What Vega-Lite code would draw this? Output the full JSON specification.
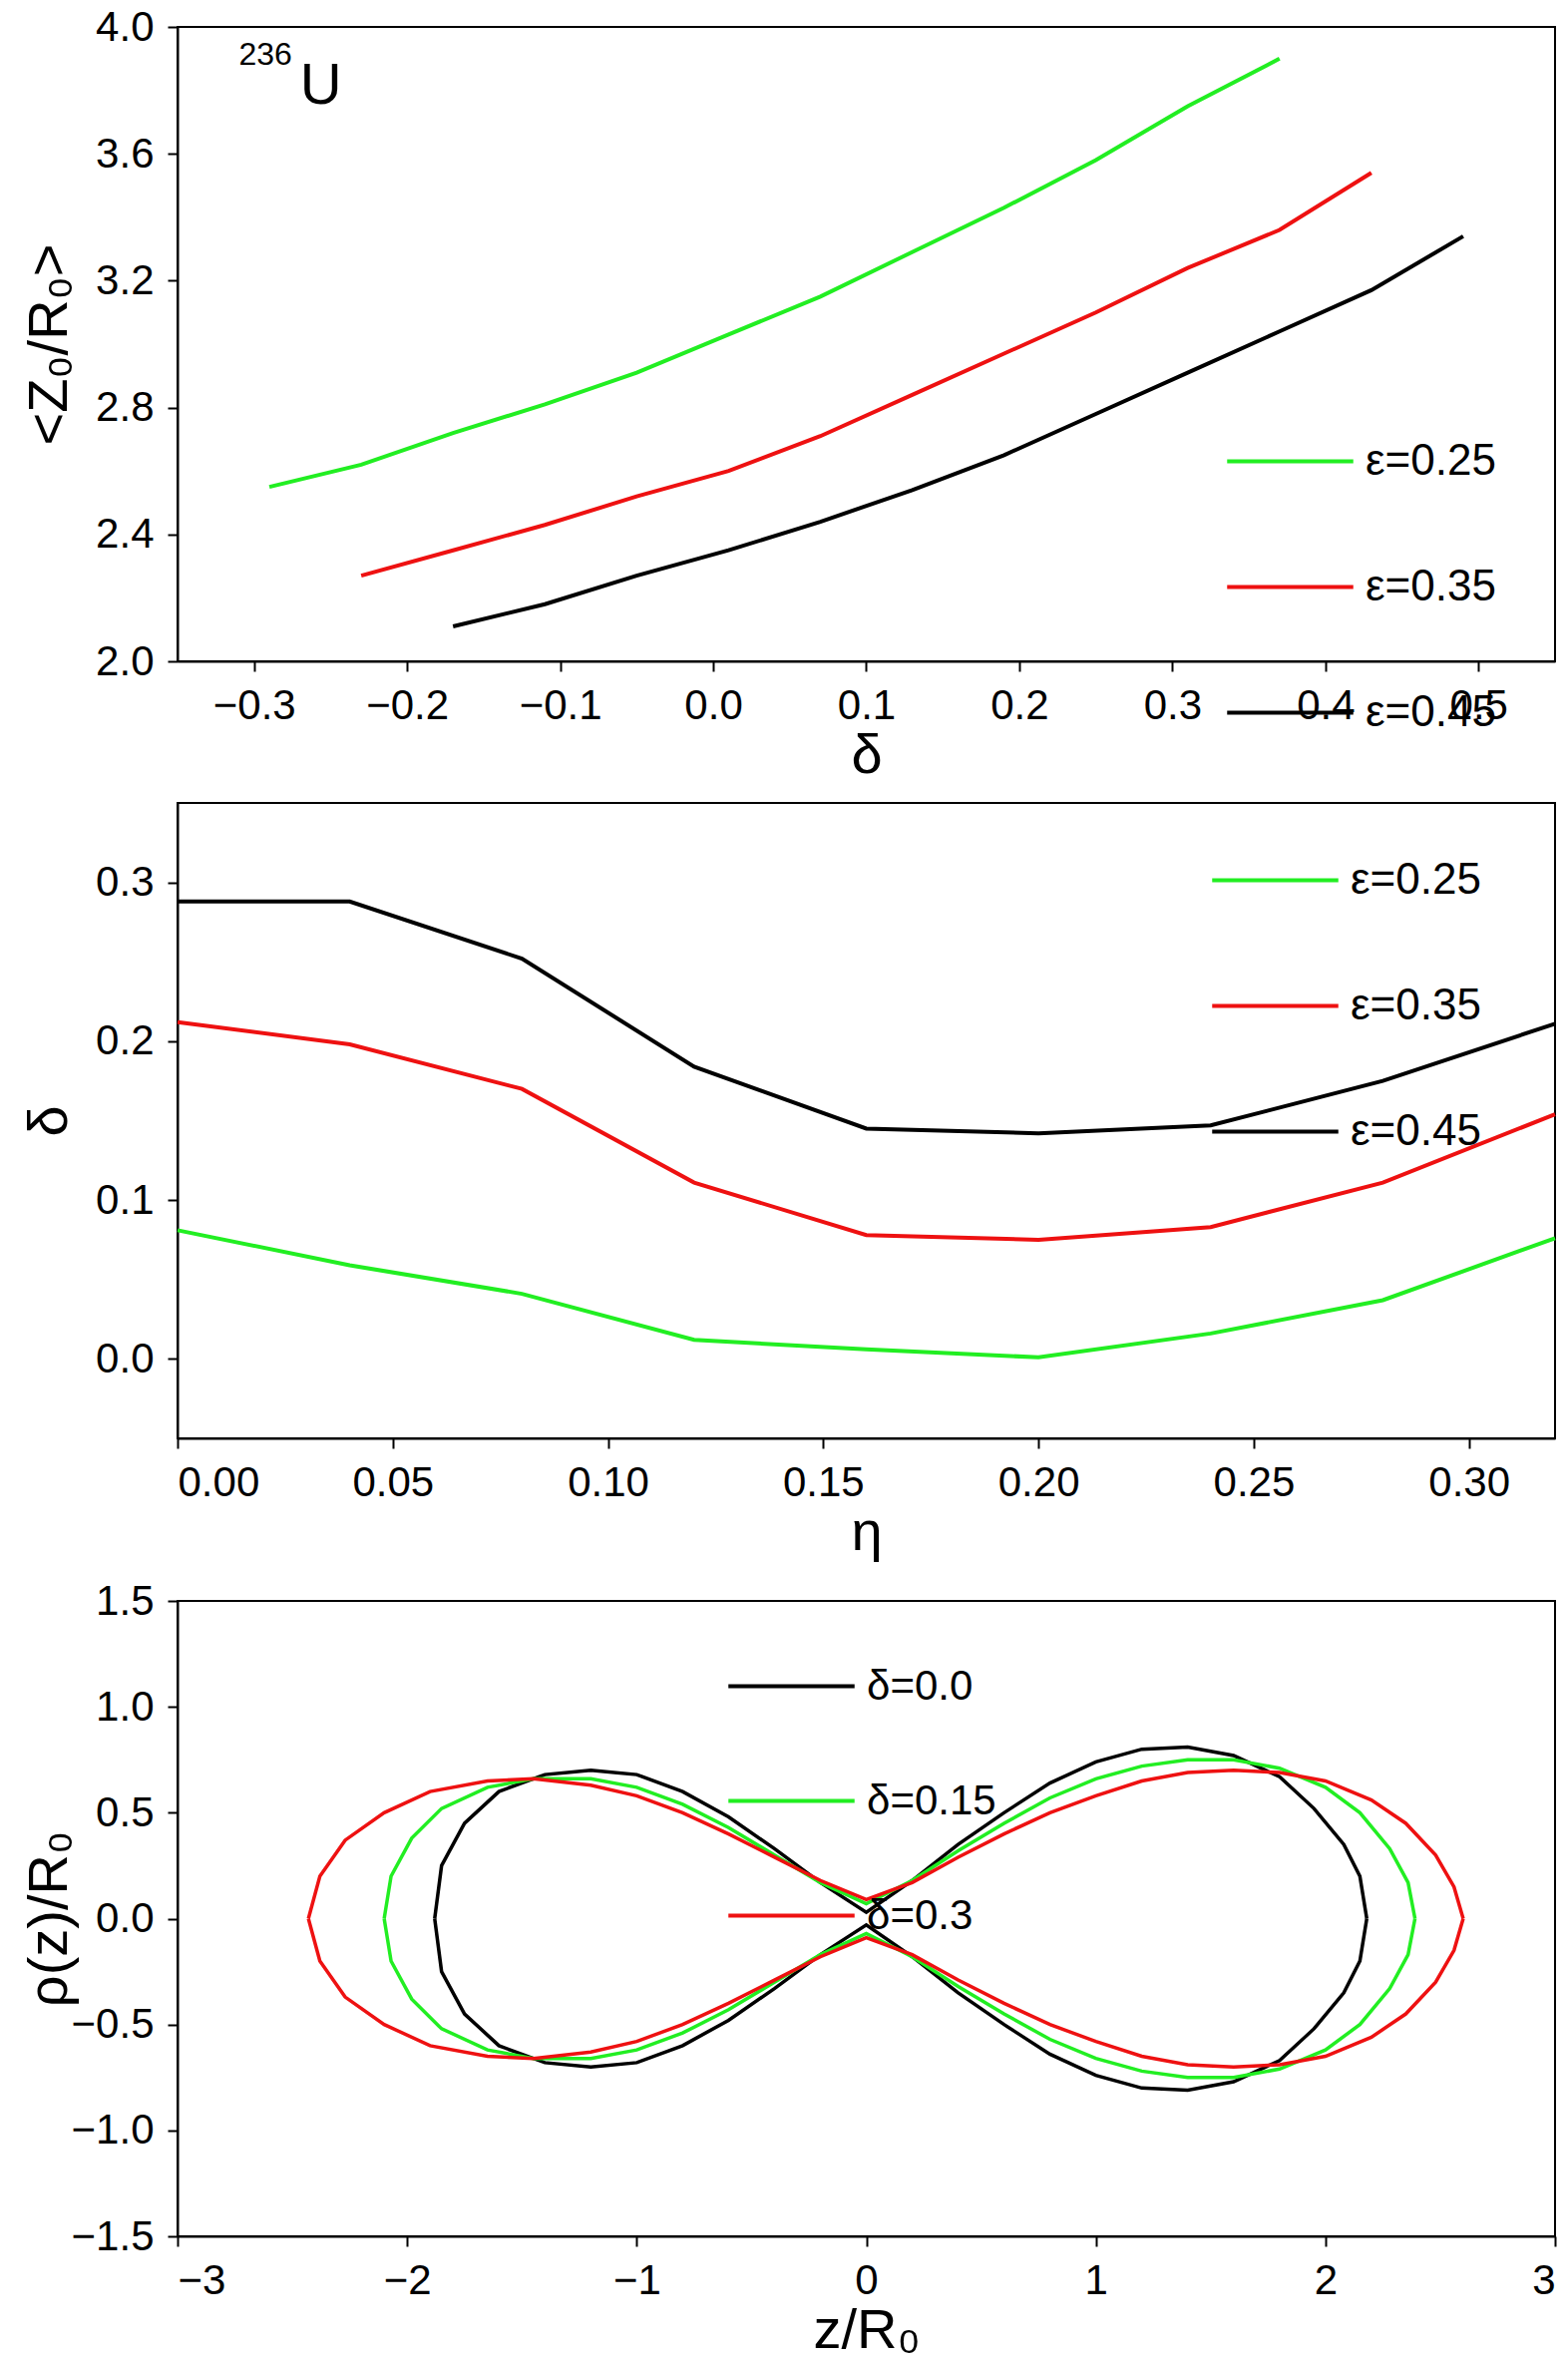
{
  "$schema": "https://vega.github.io/schema/vega-lite/v6.json",
  "background": "white",
  "padding": {"left": 20, "top": 5, "right": 0, "bottom": 0},
  "spacing": 18,
  "config": {
    "font": "Liberation Sans",
    "view": {"stroke": "black", "strokeWidth": 2},
    "axis": {"labelFontSize": 42, "titleFontSize": 56, "titleFontWeight": "normal", "labelColor": "black", "titleColor": "black", "domainColor": "black", "tickColor": "black", "tickSize": 10, "tickWidth": 2, "domainWidth": 2, "grid": false, "labelPadding": 14},
    "axisY": {"minExtent": 100, "maxExtent": 100, "titlePadding": 0},
    "axisX": {"titlePadding": 2},
    "legend": {"labelFontSize": 44, "symbolType": "stroke", "symbolSize": 16000, "symbolStrokeWidth": 4, "labelColor": "black", "title": null, "orient": "none", "labelOffset": 10},
    "line": {"strokeWidth": 4}
  },
  "resolve": {"scale": {"color": "independent"}},
  "vconcat": [
    {
      "width": 1381, "height": 636,
      "layer": [
        {
          "data": {"values": [
            {"d": -0.29, "z": 2.55, "s": "ε=0.25"}, {"d": -0.23, "z": 2.62, "s": "ε=0.25"}, {"d": -0.17, "z": 2.72, "s": "ε=0.25"}, {"d": -0.11, "z": 2.81, "s": "ε=0.25"}, {"d": -0.05, "z": 2.91, "s": "ε=0.25"}, {"d": 0.01, "z": 3.03, "s": "ε=0.25"}, {"d": 0.07, "z": 3.15, "s": "ε=0.25"}, {"d": 0.13, "z": 3.29, "s": "ε=0.25"}, {"d": 0.19, "z": 3.43, "s": "ε=0.25"}, {"d": 0.25, "z": 3.58, "s": "ε=0.25"}, {"d": 0.31, "z": 3.75, "s": "ε=0.25"}, {"d": 0.37, "z": 3.90, "s": "ε=0.25"},
            {"d": -0.23, "z": 2.27, "s": "ε=0.35"}, {"d": -0.17, "z": 2.35, "s": "ε=0.35"}, {"d": -0.11, "z": 2.43, "s": "ε=0.35"}, {"d": -0.05, "z": 2.52, "s": "ε=0.35"}, {"d": 0.01, "z": 2.60, "s": "ε=0.35"}, {"d": 0.07, "z": 2.71, "s": "ε=0.35"}, {"d": 0.13, "z": 2.84, "s": "ε=0.35"}, {"d": 0.19, "z": 2.97, "s": "ε=0.35"}, {"d": 0.25, "z": 3.10, "s": "ε=0.35"}, {"d": 0.31, "z": 3.24, "s": "ε=0.35"}, {"d": 0.37, "z": 3.36, "s": "ε=0.35"}, {"d": 0.43, "z": 3.54, "s": "ε=0.35"},
            {"d": -0.17, "z": 2.11, "s": "ε=0.45"}, {"d": -0.11, "z": 2.18, "s": "ε=0.45"}, {"d": -0.05, "z": 2.27, "s": "ε=0.45"}, {"d": 0.01, "z": 2.35, "s": "ε=0.45"}, {"d": 0.07, "z": 2.44, "s": "ε=0.45"}, {"d": 0.13, "z": 2.54, "s": "ε=0.45"}, {"d": 0.19, "z": 2.65, "s": "ε=0.45"}, {"d": 0.25, "z": 2.78, "s": "ε=0.45"}, {"d": 0.31, "z": 2.91, "s": "ε=0.45"}, {"d": 0.37, "z": 3.04, "s": "ε=0.45"}, {"d": 0.43, "z": 3.17, "s": "ε=0.45"}, {"d": 0.49, "z": 3.34, "s": "ε=0.45"}
          ]},
          "mark": "line",
          "encoding": {
            "x": {"field": "d", "type": "quantitative", "title": "δ", "scale": {"domain": [-0.35, 0.55], "nice": false}, "axis": {"values": [-0.3, -0.2, -0.1, 0.0, 0.1, 0.2, 0.3, 0.4, 0.5], "format": ".1f"}},
            "y": {"field": "z", "type": "quantitative", "title": "<Z₀/R₀>", "scale": {"domain": [2.0, 4.0], "nice": false}, "axis": {"values": [2.0, 2.4, 2.8, 3.2, 3.6, 4.0], "format": ".1f"}},
            "color": {"field": "s", "type": "nominal", "scale": {"domain": ["ε=0.25", "ε=0.35", "ε=0.45"], "range": ["#22ee22", "#ee1111", "black"]}, "legend": {"legendX": 1050, "legendY": 370, "rowPadding": 38}}
          }
        },
        {
          "data": {"values": [{"d": -0.31, "z": 3.86, "t": "236"}]},
          "mark": {"type": "text", "fontSize": 32, "align": "left", "baseline": "bottom"},
          "encoding": {"x": {"field": "d", "type": "quantitative"}, "y": {"field": "z", "type": "quantitative"}, "text": {"field": "t"}}
        },
        {
          "data": {"values": [{"d": -0.27, "z": 3.72, "t": "U"}]},
          "mark": {"type": "text", "fontSize": 58, "align": "left", "baseline": "bottom"},
          "encoding": {"x": {"field": "d", "type": "quantitative"}, "y": {"field": "z", "type": "quantitative"}, "text": {"field": "t"}}
        }
      ]
    },
    {
      "width": 1381, "height": 637,
      "data": {"values": [
        {"e": 0.00, "d": 0.288, "s": "ε=0.45"}, {"e": 0.04, "d": 0.288, "s": "ε=0.45"}, {"e": 0.08, "d": 0.252, "s": "ε=0.45"}, {"e": 0.12, "d": 0.184, "s": "ε=0.45"}, {"e": 0.16, "d": 0.145, "s": "ε=0.45"}, {"e": 0.20, "d": 0.142, "s": "ε=0.45"}, {"e": 0.24, "d": 0.147, "s": "ε=0.45"}, {"e": 0.28, "d": 0.175, "s": "ε=0.45"}, {"e": 0.32, "d": 0.211, "s": "ε=0.45"},
        {"e": 0.00, "d": 0.212, "s": "ε=0.35"}, {"e": 0.04, "d": 0.198, "s": "ε=0.35"}, {"e": 0.08, "d": 0.170, "s": "ε=0.35"}, {"e": 0.12, "d": 0.111, "s": "ε=0.35"}, {"e": 0.16, "d": 0.078, "s": "ε=0.35"}, {"e": 0.20, "d": 0.075, "s": "ε=0.35"}, {"e": 0.24, "d": 0.083, "s": "ε=0.35"}, {"e": 0.28, "d": 0.111, "s": "ε=0.35"}, {"e": 0.32, "d": 0.154, "s": "ε=0.35"},
        {"e": 0.00, "d": 0.081, "s": "ε=0.25"}, {"e": 0.04, "d": 0.059, "s": "ε=0.25"}, {"e": 0.08, "d": 0.041, "s": "ε=0.25"}, {"e": 0.12, "d": 0.012, "s": "ε=0.25"}, {"e": 0.16, "d": 0.006, "s": "ε=0.25"}, {"e": 0.20, "d": 0.001, "s": "ε=0.25"}, {"e": 0.24, "d": 0.016, "s": "ε=0.25"}, {"e": 0.28, "d": 0.037, "s": "ε=0.25"}, {"e": 0.32, "d": 0.076, "s": "ε=0.25"}
      ]},
      "mark": "line",
      "encoding": {
        "x": {"field": "e", "type": "quantitative", "title": "η", "scale": {"domain": [0, 0.32], "nice": false}, "axis": {"values": [0, 0.05, 0.1, 0.15, 0.2, 0.25, 0.3], "format": ".2f"}},
        "y": {"field": "d", "type": "quantitative", "title": "δ", "scale": {"domain": [-0.05, 0.35], "nice": false}, "axis": {"values": [0, 0.1, 0.2, 0.3], "format": ".1f"}},
        "color": {"field": "s", "type": "nominal", "scale": {"domain": ["ε=0.25", "ε=0.35", "ε=0.45"], "range": ["#22ee22", "#ee1111", "black"]}, "legend": {"legendX": 1035, "legendY": 12, "rowPadding": 38}}
      }
    },
    {
      "width": 1381, "height": 637,
      "data": {"values": [
        {"c": "δ=0.0", "b": "u", "z": -1.88, "r": 0}, {"c": "δ=0.0", "b": "u", "z": -1.85, "r": 0.25}, {"c": "δ=0.0", "b": "u", "z": -1.75, "r": 0.45}, {"c": "δ=0.0", "b": "u", "z": -1.6, "r": 0.6}, {"c": "δ=0.0", "b": "u", "z": -1.4, "r": 0.68}, {"c": "δ=0.0", "b": "u", "z": -1.2, "r": 0.70}, {"c": "δ=0.0", "b": "u", "z": -1.0, "r": 0.68}, {"c": "δ=0.0", "b": "u", "z": -0.8, "r": 0.6}, {"c": "δ=0.0", "b": "u", "z": -0.6, "r": 0.48}, {"c": "δ=0.0", "b": "u", "z": -0.4, "r": 0.33}, {"c": "δ=0.0", "b": "u", "z": -0.2, "r": 0.17}, {"c": "δ=0.0", "b": "u", "z": 0, "r": 0.03}, {"c": "δ=0.0", "b": "u", "z": 0.2, "r": 0.18}, {"c": "δ=0.0", "b": "u", "z": 0.4, "r": 0.35}, {"c": "δ=0.0", "b": "u", "z": 0.6, "r": 0.5}, {"c": "δ=0.0", "b": "u", "z": 0.8, "r": 0.64}, {"c": "δ=0.0", "b": "u", "z": 1.0, "r": 0.74}, {"c": "δ=0.0", "b": "u", "z": 1.2, "r": 0.80}, {"c": "δ=0.0", "b": "u", "z": 1.4, "r": 0.81}, {"c": "δ=0.0", "b": "u", "z": 1.6, "r": 0.77}, {"c": "δ=0.0", "b": "u", "z": 1.8, "r": 0.67}, {"c": "δ=0.0", "b": "u", "z": 1.95, "r": 0.52}, {"c": "δ=0.0", "b": "u", "z": 2.08, "r": 0.35}, {"c": "δ=0.0", "b": "u", "z": 2.15, "r": 0.2}, {"c": "δ=0.0", "b": "u", "z": 2.18, "r": 0},
        {"c": "δ=0.0", "b": "l", "z": -1.88, "r": 0}, {"c": "δ=0.0", "b": "l", "z": -1.85, "r": -0.25}, {"c": "δ=0.0", "b": "l", "z": -1.75, "r": -0.45}, {"c": "δ=0.0", "b": "l", "z": -1.6, "r": -0.6}, {"c": "δ=0.0", "b": "l", "z": -1.4, "r": -0.68}, {"c": "δ=0.0", "b": "l", "z": -1.2, "r": -0.70}, {"c": "δ=0.0", "b": "l", "z": -1.0, "r": -0.68}, {"c": "δ=0.0", "b": "l", "z": -0.8, "r": -0.6}, {"c": "δ=0.0", "b": "l", "z": -0.6, "r": -0.48}, {"c": "δ=0.0", "b": "l", "z": -0.4, "r": -0.33}, {"c": "δ=0.0", "b": "l", "z": -0.2, "r": -0.17}, {"c": "δ=0.0", "b": "l", "z": 0, "r": -0.03}, {"c": "δ=0.0", "b": "l", "z": 0.2, "r": -0.18}, {"c": "δ=0.0", "b": "l", "z": 0.4, "r": -0.35}, {"c": "δ=0.0", "b": "l", "z": 0.6, "r": -0.5}, {"c": "δ=0.0", "b": "l", "z": 0.8, "r": -0.64}, {"c": "δ=0.0", "b": "l", "z": 1.0, "r": -0.74}, {"c": "δ=0.0", "b": "l", "z": 1.2, "r": -0.80}, {"c": "δ=0.0", "b": "l", "z": 1.4, "r": -0.81}, {"c": "δ=0.0", "b": "l", "z": 1.6, "r": -0.77}, {"c": "δ=0.0", "b": "l", "z": 1.8, "r": -0.67}, {"c": "δ=0.0", "b": "l", "z": 1.95, "r": -0.52}, {"c": "δ=0.0", "b": "l", "z": 2.08, "r": -0.35}, {"c": "δ=0.0", "b": "l", "z": 2.15, "r": -0.2}, {"c": "δ=0.0", "b": "l", "z": 2.18, "r": 0},
        {"c": "δ=0.15", "b": "u", "z": -2.10, "r": 0}, {"c": "δ=0.15", "b": "u", "z": -2.07, "r": 0.2}, {"c": "δ=0.15", "b": "u", "z": -1.98, "r": 0.38}, {"c": "δ=0.15", "b": "u", "z": -1.85, "r": 0.52}, {"c": "δ=0.15", "b": "u", "z": -1.65, "r": 0.62}, {"c": "δ=0.15", "b": "u", "z": -1.45, "r": 0.66}, {"c": "δ=0.15", "b": "u", "z": -1.2, "r": 0.66}, {"c": "δ=0.15", "b": "u", "z": -1.0, "r": 0.62}, {"c": "δ=0.15", "b": "u", "z": -0.8, "r": 0.54}, {"c": "δ=0.15", "b": "u", "z": -0.6, "r": 0.43}, {"c": "δ=0.15", "b": "u", "z": -0.4, "r": 0.3}, {"c": "δ=0.15", "b": "u", "z": -0.2, "r": 0.17}, {"c": "δ=0.15", "b": "u", "z": 0, "r": 0.07}, {"c": "δ=0.15", "b": "u", "z": 0.2, "r": 0.18}, {"c": "δ=0.15", "b": "u", "z": 0.4, "r": 0.32}, {"c": "δ=0.15", "b": "u", "z": 0.6, "r": 0.45}, {"c": "δ=0.15", "b": "u", "z": 0.8, "r": 0.57}, {"c": "δ=0.15", "b": "u", "z": 1.0, "r": 0.66}, {"c": "δ=0.15", "b": "u", "z": 1.2, "r": 0.72}, {"c": "δ=0.15", "b": "u", "z": 1.4, "r": 0.75}, {"c": "δ=0.15", "b": "u", "z": 1.6, "r": 0.75}, {"c": "δ=0.15", "b": "u", "z": 1.8, "r": 0.71}, {"c": "δ=0.15", "b": "u", "z": 2.0, "r": 0.62}, {"c": "δ=0.15", "b": "u", "z": 2.15, "r": 0.5}, {"c": "δ=0.15", "b": "u", "z": 2.28, "r": 0.33}, {"c": "δ=0.15", "b": "u", "z": 2.36, "r": 0.17}, {"c": "δ=0.15", "b": "u", "z": 2.39, "r": 0},
        {"c": "δ=0.15", "b": "l", "z": -2.10, "r": 0}, {"c": "δ=0.15", "b": "l", "z": -2.07, "r": -0.2}, {"c": "δ=0.15", "b": "l", "z": -1.98, "r": -0.38}, {"c": "δ=0.15", "b": "l", "z": -1.85, "r": -0.52}, {"c": "δ=0.15", "b": "l", "z": -1.65, "r": -0.62}, {"c": "δ=0.15", "b": "l", "z": -1.45, "r": -0.66}, {"c": "δ=0.15", "b": "l", "z": -1.2, "r": -0.66}, {"c": "δ=0.15", "b": "l", "z": -1.0, "r": -0.62}, {"c": "δ=0.15", "b": "l", "z": -0.8, "r": -0.54}, {"c": "δ=0.15", "b": "l", "z": -0.6, "r": -0.43}, {"c": "δ=0.15", "b": "l", "z": -0.4, "r": -0.3}, {"c": "δ=0.15", "b": "l", "z": -0.2, "r": -0.17}, {"c": "δ=0.15", "b": "l", "z": 0, "r": -0.07}, {"c": "δ=0.15", "b": "l", "z": 0.2, "r": -0.18}, {"c": "δ=0.15", "b": "l", "z": 0.4, "r": -0.32}, {"c": "δ=0.15", "b": "l", "z": 0.6, "r": -0.45}, {"c": "δ=0.15", "b": "l", "z": 0.8, "r": -0.57}, {"c": "δ=0.15", "b": "l", "z": 1.0, "r": -0.66}, {"c": "δ=0.15", "b": "l", "z": 1.2, "r": -0.72}, {"c": "δ=0.15", "b": "l", "z": 1.4, "r": -0.75}, {"c": "δ=0.15", "b": "l", "z": 1.6, "r": -0.75}, {"c": "δ=0.15", "b": "l", "z": 1.8, "r": -0.71}, {"c": "δ=0.15", "b": "l", "z": 2.0, "r": -0.62}, {"c": "δ=0.15", "b": "l", "z": 2.15, "r": -0.5}, {"c": "δ=0.15", "b": "l", "z": 2.28, "r": -0.33}, {"c": "δ=0.15", "b": "l", "z": 2.36, "r": -0.17}, {"c": "δ=0.15", "b": "l", "z": 2.39, "r": 0},
        {"c": "δ=0.3", "b": "u", "z": -2.43, "r": 0}, {"c": "δ=0.3", "b": "u", "z": -2.38, "r": 0.2}, {"c": "δ=0.3", "b": "u", "z": -2.27, "r": 0.37}, {"c": "δ=0.3", "b": "u", "z": -2.1, "r": 0.5}, {"c": "δ=0.3", "b": "u", "z": -1.9, "r": 0.6}, {"c": "δ=0.3", "b": "u", "z": -1.65, "r": 0.65}, {"c": "δ=0.3", "b": "u", "z": -1.45, "r": 0.66}, {"c": "δ=0.3", "b": "u", "z": -1.2, "r": 0.63}, {"c": "δ=0.3", "b": "u", "z": -1.0, "r": 0.58}, {"c": "δ=0.3", "b": "u", "z": -0.8, "r": 0.5}, {"c": "δ=0.3", "b": "u", "z": -0.6, "r": 0.40}, {"c": "δ=0.3", "b": "u", "z": -0.4, "r": 0.29}, {"c": "δ=0.3", "b": "u", "z": -0.2, "r": 0.18}, {"c": "δ=0.3", "b": "u", "z": 0, "r": 0.09}, {"c": "δ=0.3", "b": "u", "z": 0.2, "r": 0.17}, {"c": "δ=0.3", "b": "u", "z": 0.4, "r": 0.29}, {"c": "δ=0.3", "b": "u", "z": 0.6, "r": 0.40}, {"c": "δ=0.3", "b": "u", "z": 0.8, "r": 0.50}, {"c": "δ=0.3", "b": "u", "z": 1.0, "r": 0.58}, {"c": "δ=0.3", "b": "u", "z": 1.2, "r": 0.65}, {"c": "δ=0.3", "b": "u", "z": 1.4, "r": 0.69}, {"c": "δ=0.3", "b": "u", "z": 1.6, "r": 0.70}, {"c": "δ=0.3", "b": "u", "z": 1.8, "r": 0.69}, {"c": "δ=0.3", "b": "u", "z": 2.0, "r": 0.65}, {"c": "δ=0.3", "b": "u", "z": 2.2, "r": 0.56}, {"c": "δ=0.3", "b": "u", "z": 2.35, "r": 0.45}, {"c": "δ=0.3", "b": "u", "z": 2.48, "r": 0.3}, {"c": "δ=0.3", "b": "u", "z": 2.56, "r": 0.15}, {"c": "δ=0.3", "b": "u", "z": 2.6, "r": 0},
        {"c": "δ=0.3", "b": "l", "z": -2.43, "r": 0}, {"c": "δ=0.3", "b": "l", "z": -2.38, "r": -0.2}, {"c": "δ=0.3", "b": "l", "z": -2.27, "r": -0.37}, {"c": "δ=0.3", "b": "l", "z": -2.1, "r": -0.5}, {"c": "δ=0.3", "b": "l", "z": -1.9, "r": -0.6}, {"c": "δ=0.3", "b": "l", "z": -1.65, "r": -0.65}, {"c": "δ=0.3", "b": "l", "z": -1.45, "r": -0.66}, {"c": "δ=0.3", "b": "l", "z": -1.2, "r": -0.63}, {"c": "δ=0.3", "b": "l", "z": -1.0, "r": -0.58}, {"c": "δ=0.3", "b": "l", "z": -0.8, "r": -0.5}, {"c": "δ=0.3", "b": "l", "z": -0.6, "r": -0.40}, {"c": "δ=0.3", "b": "l", "z": -0.4, "r": -0.29}, {"c": "δ=0.3", "b": "l", "z": -0.2, "r": -0.18}, {"c": "δ=0.3", "b": "l", "z": 0, "r": -0.09}, {"c": "δ=0.3", "b": "l", "z": 0.2, "r": -0.17}, {"c": "δ=0.3", "b": "l", "z": 0.4, "r": -0.29}, {"c": "δ=0.3", "b": "l", "z": 0.6, "r": -0.40}, {"c": "δ=0.3", "b": "l", "z": 0.8, "r": -0.50}, {"c": "δ=0.3", "b": "l", "z": 1.0, "r": -0.58}, {"c": "δ=0.3", "b": "l", "z": 1.2, "r": -0.65}, {"c": "δ=0.3", "b": "l", "z": 1.4, "r": -0.69}, {"c": "δ=0.3", "b": "l", "z": 1.6, "r": -0.70}, {"c": "δ=0.3", "b": "l", "z": 1.8, "r": -0.69}, {"c": "δ=0.3", "b": "l", "z": 2.0, "r": -0.65}, {"c": "δ=0.3", "b": "l", "z": 2.2, "r": -0.56}, {"c": "δ=0.3", "b": "l", "z": 2.35, "r": -0.45}, {"c": "δ=0.3", "b": "l", "z": 2.48, "r": -0.3}, {"c": "δ=0.3", "b": "l", "z": 2.56, "r": -0.15}, {"c": "δ=0.3", "b": "l", "z": 2.6, "r": 0}
      ]},
      "mark": {"type": "line", "strokeWidth": 3.5},
      "encoding": {
        "x": {"field": "z", "type": "quantitative", "title": "z/R₀", "scale": {"domain": [-3, 3], "nice": false}, "axis": {"values": [-3, -2, -1, 0, 1, 2, 3]}},
        "y": {"field": "r", "type": "quantitative", "title": "ρ(z)/R₀", "scale": {"domain": [-1.5, 1.5], "nice": false}, "axis": {"values": [-1.5, -1.0, -0.5, 0.0, 0.5, 1.0, 1.5], "format": ".1f"}},
        "detail": {"field": "b"},
        "color": {"field": "c", "type": "nominal", "scale": {"domain": ["δ=0.0", "δ=0.15", "δ=0.3"], "range": ["black", "#22ee22", "#ee1111"]}, "legend": {"legendX": 550, "legendY": 20, "rowPadding": 28, "labelFontSize": 42}}
      }
    }
  ]
}
